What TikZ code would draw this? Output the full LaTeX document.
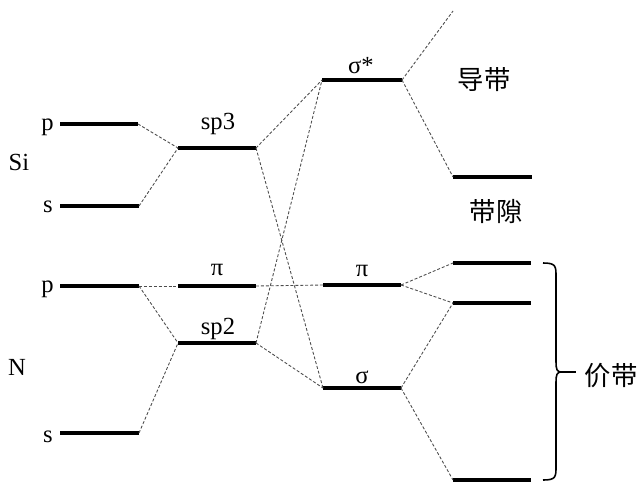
\documentclass[tikz,border=0pt]{standalone}
\usepackage{fontspec}
\setmainfont{Liberation Serif}
\newfontfamily\cjk{Noto Sans CJK SC}

\begin{document}
\begin{tikzpicture}[x=0.02cm, y=-0.02cm,
    level/.style={line width=1.9pt},
    link/.style={line width=0.5pt, black!70, dash pattern=on 1.7pt off 1.1pt},
    lbl/.style={font=\fontsize{14}{16}\selectfont, inner sep=0pt},
    band/.style={font=\cjk\fontsize{15}{17}\selectfont, inner sep=0pt}]
  \useasboundingbox (0,0) rectangle (641,497);
  % Energy levels: name / left x / right x / y
  \foreach \n/\xa/\xb/\y in {sip/60/138/124, sis/60/139/206, sp3/178/256/148,
      np/60/139/286, ns/60/139/433, pia/178/256/286, sp2/178/256/343,
      sigst/322/402/80, pib/323/401/285, sig/323/401/388,
      cb/453/532/177, vba/453/531/263, vbb/453/531/303, vbc/453/531/480} {
    \coordinate (\n-l) at (\xa,\y);
    \coordinate (\n-r) at (\xb,\y);
    \draw[level] (\n-l) -- (\n-r);
  }
  % Atom labels
  \node[lbl, anchor=mid east] (sip-t) at (54,126) {p};
  \node[lbl, anchor=base] (si-t) at (19,170) {Si};
  \node[lbl, anchor=base] (sis-t) at (48,212) {s};
  \node[lbl, anchor=mid east] (np-t) at (54,288) {p};
  \node[lbl, anchor=base] (n-t) at (17,375) {N};
  \node[lbl, anchor=base] (ns-t) at (48,442) {s};
  % Level labels
  \node[lbl, anchor=base] (sp3-t) at (218,129) {sp3};
  \node[lbl, anchor=base] (pia-t) at (217,275) {π};
  \node[lbl, anchor=base] (sp2-t) at (218,334) {sp2};
  \node[lbl, anchor=base] (sigst-t) at (361,73) {σ*};
  \node[lbl, anchor=base] (pib-t) at (362,276) {π};
  \node[lbl, anchor=base] (sig-t) at (362,383) {σ};
  % Band labels
  \node[band] (cb-t) at (484,80) {导带};
  \node[band] (gap-t) at (496,212) {带隙};
  \node[band] (vb-t) at (611,376) {价带};
  % Correlation lines
  \draw[link] (sip-r) -- (sp3-l);
  \draw[link] (sis-r) -- (sp3-l);
  \draw[link] (np-r) -- (pia-l);
  \draw[link] (np-r) -- (sp2-l);
  \draw[link] (ns-r) -- (sp2-l);
  \draw[link] (sp3-r) -- (sigst-l);
  \draw[link] (sp3-r) -- (sig-l);
  \draw[link] (sp2-r) -- (sigst-l);
  \draw[link] (sp2-r) -- (sig-l);
  \draw[link] (pia-r) -- (pib-l);
  \coordinate (top) at (453,11);
  \draw[link] (sigst-r) -- (top);
  \draw[link] (sigst-r) -- (cb-l);
  \draw[link] (pib-r) -- (vba-l);
  \draw[link] (pib-r) -- (vbb-l);
  \draw[link] (sig-r) -- (vbb-l);
  \draw[link] (sig-r) -- (vbc-l);
  % Brace round the valence band
  \coordinate (tip) at (561,372);
  \coordinate (tip-end) at (576,372);
  \draw[line width=0.9pt] (543,263) .. controls (556,263) and (556,266) .. (556,277)
    -- (556,362) .. controls (556,369) and (557,372) .. (tip)
    .. controls (557,372) and (556,375) .. (556,382)
    -- (556,466) .. controls (556,477) and (556,480) .. (543,480);
  \draw[line width=0.9pt] (tip) -- (tip-end);
\end{tikzpicture}
\end{document}
